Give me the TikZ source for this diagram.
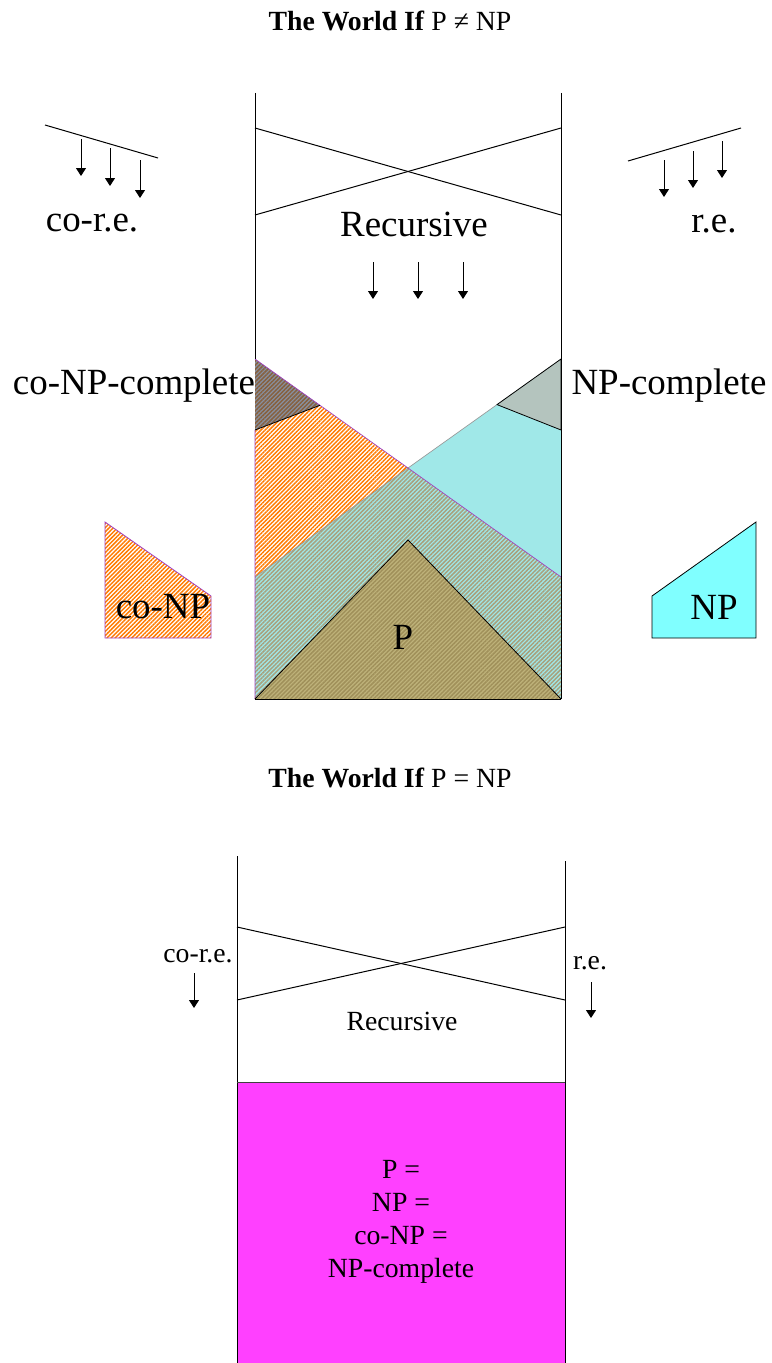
\documentclass[tikz,border=0pt]{standalone}
\usepackage{fontspec}
\setmainfont{Liberation Serif}
\usetikzlibrary{patterns.meta,arrows.meta}
\definecolor{npcyan}{HTML}{A0E8E8}
\definecolor{npbox}{HTML}{80FFFF}
\definecolor{hatchorange}{HTML}{FF7A00}
\definecolor{overlapline}{HTML}{A8A07C}
\definecolor{pfill}{HTML}{BEB27A}
\definecolor{pline}{HTML}{A0905A}
\definecolor{cnpcfill}{HTML}{8890A0}
\definecolor{cnpcline}{HTML}{86603E}
\definecolor{npcfill}{HTML}{B4C4BE}
\definecolor{conpborder}{HTML}{A040C0}
\definecolor{magentafill}{HTML}{FF40FF}
\begin{document}
\begin{tikzpicture}[x=0.75pt,y=-0.75pt,
  bigtxt/.style={font=\fontsize{27.7}{32}\selectfont, inner sep=0pt},
  smalltxt/.style={font=\fontsize{20.8}{24.75}\selectfont, inner sep=0pt},
  wall/.style={line width=0.75pt},
  arr/.style={-{Triangle[length=6pt,width=7.5pt]}, line width=0.75pt},
  hatch/.style={pattern={Lines[angle=45,distance=2.2pt,line width=1.1pt]}}]
\useasboundingbox (0,0) rectangle (771,1363);

% ---------------- Top diagram ----------------
\node[smalltxt] (title1) at (390,21) {\textbf{The World If} P ≠ NP};

% region fills
\fill[npcyan] (561,359) -- (255,577) -- (255,699) -- (561,699) -- cycle;
\fill[hatch, pattern color=hatchorange] (320,405.3) -- (408,468) -- (255,577) -- (255,430) -- cycle;
\fill[hatch, pattern color=overlapline] (408,468) -- (561,577) -- (561,699) -- (255,699) -- (255,577) -- cycle;
\fill[cnpcfill] (255,359) -- (320,405.3) -- (255,430) -- cycle;
\fill[hatch, pattern color=cnpcline] (255,359) -- (320,405.3) -- (255,430) -- cycle;
\fill[pfill] (255,699) -- (408,540) -- (561,699) -- cycle;
\fill[hatch, pattern color=pline] (255,699) -- (408,540) -- (561,699) -- cycle;
\filldraw[fill=npcfill, draw=black, line width=0.6pt] (561,359) -- (497,404.6) -- (561,430) -- cycle;

% region borders
\draw[gray!80, line width=0.5pt] (497,404.6) -- (255,577);
\draw[conpborder, line width=0.5pt] (255,359) -- (561,577) (255,430) -- (255,699);
\draw[line width=0.6pt] (255,430) -- (320,405.3);
\draw[line width=0.6pt] (255,699) -- (408,540) -- (561,699);

% walls and X
\coordinate (tl1) at (255,93);
\coordinate (tl2) at (255,699);
\coordinate (tr1) at (561,93);
\coordinate (tr2) at (561,699);
\draw[wall] (tl1) -- (255,359);
\draw[wall] (tr1) -- (tr2);
\draw[wall] (tl2) -- (tr2);
\draw[wall] (255,128) -- (561,215);
\draw[wall] (255,215) -- (561,128);

\node[bigtxt] (rec1) at (414,224) {Recursive};
\foreach \i/\x in {1/373,2/418,3/463}{
  \coordinate (ra\i) at (\x,262);
  \coordinate (rb\i) at (\x,299);
  \draw[arr] (ra\i) -- (rb\i);
}

% co-r.e. (left)
\coordinate (cl1) at (45,125);
\coordinate (cl2) at (158,158);
\draw[wall] (cl1) -- (cl2);
\coordinate (ca1) at (81,139);  \coordinate (cb1) at (81,176);
\coordinate (ca2) at (110,148); \coordinate (cb2) at (110,186);
\coordinate (ca3) at (140,160); \coordinate (cb3) at (140,198);
\draw[arr] (ca1) -- (cb1);
\draw[arr] (ca2) -- (cb2);
\draw[arr] (ca3) -- (cb3);
\node[bigtxt] (core1) at (92,223) {co-r.e.};

% r.e. (right)
\coordinate (rl1) at (628,161);
\coordinate (rl2) at (741,128);
\draw[wall] (rl1) -- (rl2);
\coordinate (ea1) at (664,160); \coordinate (eb1) at (664,197);
\coordinate (ea2) at (693,151); \coordinate (eb2) at (693,188);
\coordinate (ea3) at (722,141); \coordinate (eb3) at (722,178);
\draw[arr] (ea1) -- (eb1);
\draw[arr] (ea2) -- (eb2);
\draw[arr] (ea3) -- (eb3);
\node[bigtxt] (re1) at (714,224) {r.e.};

\node[bigtxt] (conpc) at (134,386) {co-NP-complete};
\node[bigtxt] (npc) at (669,386) {NP-complete};
\node[bigtxt] (p) at (403,637) {P};

% side boxes
\fill[hatch, pattern color=hatchorange] (105,522) -- (211,596) -- (211,638) -- (105,638) -- cycle;
\draw[conpborder, line width=0.6pt] (105,522) -- (211,596) -- (211,638) -- (105,638) -- cycle;
\node[bigtxt] (conp) at (163,607) {co-NP};
\filldraw[fill=npbox, draw=black, line width=0.6pt] (652,596) -- (756,522) -- (756,638) -- (652,638) -- cycle;
\node[bigtxt] (np) at (714,607) {NP};

% ---------------- Bottom diagram ----------------
\node[smalltxt] (title2) at (390,778) {\textbf{The World If} P = NP};

\fill[magentafill] (237,1082) rectangle (565,1363);
\draw[wall] (237,856) -- (237,1363);
\draw[wall] (565,861) -- (565,1363);
\draw[line width=0.75pt, black!75] (237,1082) -- (565,1082);
\draw[wall] (237,927) -- (565,1000);
\draw[wall] (237,1000) -- (565,927);

\node[smalltxt] (rec2) at (402,1021) {Recursive};
\node[smalltxt] (core2) at (198,956) {co-r.e.};
\coordinate (ba1) at (194,973); \coordinate (bb1) at (194,1008);
\draw[arr] (ba1) -- (bb1);
\node[smalltxt] (re2) at (590,963) {r.e.};
\coordinate (ba2) at (591,982); \coordinate (bb2) at (591,1018);
\draw[arr] (ba2) -- (bb2);

\node[smalltxt, align=center] (eq) at (401,1222) {P =\\NP =\\co-NP =\\NP-complete};
\end{tikzpicture}
\end{document}
